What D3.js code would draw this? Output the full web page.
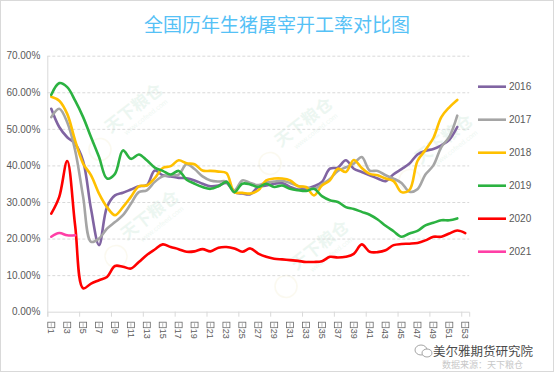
<!DOCTYPE html>
<html>
<head>
<meta charset="utf-8">
<script src="https://cdn.jsdelivr.net/npm/d3@7"></script>
<style>
  body { margin: 0; background: #fff; }
  svg { display: block; font-family: "Liberation Sans", Arial, sans-serif; }
</style>
</head>
<body>
<div id="chart-area"></div>
<script>
// data (weekly slaughter operating rate, %)
var weeks = d3.range(1, 54);
var years = ["2016", "2017", "2018", "2019", "2020", "2021"];
var rate2016 = [55.5, 50.5, 47.7, 45.9, 41.2, 28, 18.2, 28.6, 31.8, 32.5, 33.4, 34.3, 34.6, 38.6, 37.3, 37, 36.6,
  36.5, 35.9, 35, 34.3, 34.5, 35.2, 32.7, 32.3, 32.1, 34.1, 34.5, 35, 35.2, 34.1, 33.4, 33.6, 34.3, 35.5, 39.1,
  39.4, 41.4, 39.1, 38.2, 37.3, 36.4, 35.7, 37.6, 39, 40.5, 43, 44, 44.5, 45.5, 47, 50.5];
var rate2017 = [53.2, 55.5, 51.8, 44.1, 31.4, 19.1, 20, 22.7, 24.5, 26.4, 29.5, 32.7, 33.2, 35.5, 37, 37.3, 37.5,
  40.3, 39, 37, 35.9, 35.6, 35.6, 33.2, 35.9, 35.2, 34.6, 35.3, 35.6, 35.8, 35.2, 34.4, 34, 33.6, 34.8, 36.3,
  38.5, 39.5, 40.5, 42.3, 38.6, 38.5, 37.3, 36.4, 35.2, 32.8, 33.5, 37.5, 40, 45, 47.8, 53.6];
var rate2018 = [58.8, 57.7, 54.1, 46.8, 40.5, 37.3, 32.3, 28.6, 26.4, 28.6, 31.4, 34.3, 34.5, 36.5, 39.3, 39.8, 41.4,
  40.6, 40.3, 38.6, 38.5, 38.3, 37.9, 32.7, 32.5, 32.3, 33.2, 35.9, 36.4, 36.4, 35.9, 34.3, 34.1, 31.8, 34.5, 35.9,
  39.1, 38.2, 41.5, 39.3, 37.7, 37.3, 36.4, 35.7, 32.7, 33.3, 41.2, 44.2, 47.5, 53.2, 55.9, 57.9];
var rate2019 = [59.3, 62.5, 61.4, 57.7, 53.2, 47.7, 42.3, 36.4, 37.7, 44.1, 41.8, 43, 41.4, 39.4, 38.5, 37.5, 38.5,
  36.1, 35, 34.1, 33.6, 34.3, 35.5, 32.7, 35, 34.8, 34.1, 35, 34.1, 34.5, 33.6, 33.2, 33, 33.6, 31.6, 30.5,
  30, 28.6, 28.1, 27.3, 26.5, 25.2, 23.5, 22, 20.5, 21.4, 22.1, 23.6, 24.3, 25, 25, 25.5];
var rate2020 = [26.8, 31.4, 41.2, 23.5, 6.4, 7.7, 8.6, 9.5, 12.5, 12.3, 11.8, 13.6, 15.5, 17, 18.4, 17.7, 17.1,
  16.4, 16.5, 17.1, 16.5, 17.5, 17.7, 17.3, 16.4, 17.3, 15.9, 15, 14.5, 14.3, 14.1, 13.9, 13.6, 13.6, 13.8, 15,
  14.8, 15, 15.8, 18.4, 16.4, 16.3, 16.8, 18.2, 18.5, 18.6, 18.8, 19.5, 20.5, 20.5, 21.4, 22.2, 21.5];
var rate2021 = [20.5, 21.5, 20.9, 20.9];
var yTicks = [0, 0.1, 0.2, 0.3, 0.4, 0.5, 0.6, 0.7];
var xLabelWeeks = weeks.filter(function(w) { return w % 2 == 1; });

var series = [rate2016, rate2017, rate2018, rate2019, rate2020, rate2021];
var colors = ["#8064a2", "#a5a5a5", "#ffc000", "#2bb241", "#ff0000", "#ff3fa6"];

var completeWidth = 554,
  completeHeight = 372;
var margin = { left: 47.3, right: 84.8, top: 55.7, bottom: 60.3 };
var width = completeWidth - margin.left - margin.right;
var height = completeHeight - margin.top - margin.bottom;

var svg = d3.select("#chart-area")
  .append("svg")
    .attr("width", completeWidth)
    .attr("height", completeHeight);

// outer frame
svg.append("rect")
  .attr("x", 0.5).attr("y", 0.5)
  .attr("width", completeWidth - 1).attr("height", completeHeight - 1)
  .attr("fill", "#fff")
  .attr("stroke", "#d9d9d9");

// title
svg.append("text")
  .attr("x", 277)
  .attr("y", 23)
  .attr("text-anchor", "middle")
  .attr("dominant-baseline", "central")
  .attr("font-family", "'Noto Sans CJK SC', sans-serif")
  .attr("font-size", "19px")
  .attr("fill", "#55c1f6")
  .text("全国历年生猪屠宰开工率对比图");

var g = svg.append("g")
  .attr("transform", "translate(" + margin.left + "," + margin.top + ")");

// scales
var x = d3.scaleBand().domain(weeks).range([0, width]);
var xEdge = d3.scaleLinear().domain([0, weeks.length]).range([0, width]);
var y = d3.scaleLinear().domain([0, 0.7]).range([height, 0]);

// watermarks
var marks = [[90, 57], [106, 164], [260, 71], [276, 194], [400, 88]];
marks.forEach(function(m) {
  var wm = g.append("g")
    .attr("transform", "translate(" + m[0] + "," + m[1] + ") rotate(-38)")
    .attr("opacity", 0.09);
  wm.append("circle").attr("cx", -52).attr("cy", 6).attr("r", 11)
    .attr("fill", "none").attr("stroke", "#d6c25a").attr("stroke-width", 1.5);
  wm.append("text").attr("x", 0).attr("y", 0).attr("text-anchor", "middle")
    .attr("font-family", "'Noto Sans CJK SC', sans-serif").attr("font-size", "17px")
    .attr("font-weight", "bold").attr("fill", "#3aa86a").text("天下粮仓");
  wm.append("text").attr("x", 4).attr("y", 11).attr("text-anchor", "middle")
    .attr("font-size", "7px").attr("fill", "#3aa86a").text("www.cofeed.com");
});

// grid
var grid = g.append("g")
  .call(d3.axisLeft(y).tickValues(yTicks.slice(1)).tickSize(-width).tickFormat(""));
grid.select(".domain").remove();
grid.selectAll("line")
  .attr("stroke", "#d9d9d9")
  .attr("stroke-dasharray", "3,2");

// y axis
var yAxis = g.append("g")
  .call(d3.axisLeft(y).tickValues(yTicks).tickSize(0).tickPadding(7).tickFormat(d3.format(".2%")));
yAxis.select(".domain").attr("stroke", "#d9d9d9");
yAxis.selectAll("text")
  .attr("font-family", "'Liberation Sans', Arial, sans-serif")
  .attr("font-size", "10px")
  .attr("fill", "#595959");

// x axis: ticks every 4 weeks
var xTickAxis = g.append("g")
  .attr("transform", "translate(0," + height + ")")
  .call(d3.axisBottom(xEdge).tickValues(d3.range(0, 53, 4)).tickSize(5).tickFormat(""));
xTickAxis.selectAll("line, path").attr("stroke", "#d9d9d9");

// x labels every 2 weeks (tofu box + rotated number)
var xLab = g.append("g")
  .attr("transform", "translate(0," + height + ")")
  .call(d3.axisBottom(x).tickValues(xLabelWeeks).tickSize(0).tickFormat(""));
xLab.select(".domain").remove();
xLab.selectAll(".tick").each(function(d) {
  var t = d3.select(this);
  t.append("rect")
    .attr("x", -3.5).attr("y", 10.5)
    .attr("width", 7).attr("height", 5.5)
    .attr("fill", "none").attr("stroke", "#6b6b6b").attr("stroke-width", 0.8);
  t.append("line")
    .attr("x1", 0).attr("x2", 0).attr("y1", 11.5).attr("y2", 15)
    .attr("stroke", "#8a8a8a").attr("stroke-width", 0.6);
  t.append("text")
    .attr("transform", "rotate(90)")
    .attr("x", 17).attr("y", 0)
    .attr("dy", "0.35em")
    .attr("text-anchor", "start")
    .attr("font-size", "9px")
    .attr("fill", "#595959")
    .text(d);
});

// lines
var line = d3.line()
  .x(function(d, i) { return x(weeks[i]) + x.bandwidth() / 2; })
  .y(function(d) { return y(d / 100); })
  .curve(d3.curveCatmullRom);

series.forEach(function(s, i) {
  g.append("path")
    .datum(s)
    .attr("fill", "none")
    .attr("stroke", colors[i])
    .attr("stroke-width", 2.6)
    .attr("stroke-linejoin", "round")
    .attr("stroke-linecap", "round")
    .attr("d", line);
});

// legend
var legend = svg.append("g");
years.forEach(function(yr, i) {
  var ly = 86.7 + i * 33;
  legend.append("line")
    .attr("x1", 478).attr("x2", 506)
    .attr("y1", ly).attr("y2", ly)
    .attr("stroke", colors[i]).attr("stroke-width", 2.6);
  legend.append("text")
    .attr("x", 509).attr("y", ly)
    .attr("dy", "0.35em")
    .attr("font-size", "10px")
    .attr("fill", "#595959")
    .text(yr);
});

// source / account watermark
svg.append("text")
  .attr("x", 442).attr("y", 368)
  .attr("font-family", "'Noto Sans CJK SC', sans-serif")
  .attr("font-size", "9px")
  .attr("fill", "#c8c8c8")
  .text("数据来源：天下粮仓");
var wx = svg.append("g").attr("transform", "translate(421,350)");
wx.append("ellipse").attr("rx", 6).attr("ry", 5)
  .attr("fill", "#fff").attr("stroke", "#9a9a9a").attr("stroke-width", 0.9);
wx.append("ellipse").attr("cx", 6).attr("cy", 3).attr("rx", 5).attr("ry", 4)
  .attr("fill", "#fff").attr("stroke", "#9a9a9a").attr("stroke-width", 0.9);
svg.append("text")
  .attr("x", 433).attr("y", 350)
  .attr("dominant-baseline", "central")
  .attr("font-family", "'Noto Sans CJK SC', sans-serif")
  .attr("font-size", "12.5px")
  .attr("fill", "#4a4a4a")
  .attr("stroke", "#fff")
  .attr("stroke-width", 2)
  .attr("paint-order", "stroke")
  .text("美尔雅期货研究院");
</script>
</body>
</html>
